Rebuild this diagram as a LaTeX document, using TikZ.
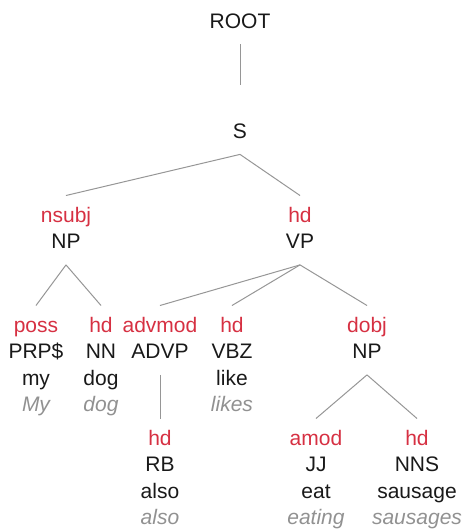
\documentclass[tikz,border=0pt]{standalone}
\usepackage{fontspec}
\setmainfont{Liberation Sans}
\usepackage{xcolor}
\usepackage{tikz}
\usetikzlibrary{positioning}

\definecolor{relred}{RGB}{214,48,66}
\definecolor{edgegray}{RGB}{150,150,150}
\definecolor{wordgray}{RGB}{145,145,145}
\definecolor{textblack}{RGB}{25,25,25}

\newcommand{\deprel}[1]{\textcolor{relred}{#1}\strut}
\newcommand{\surface}[1]{\textcolor{wordgray}{\itshape #1}\strut}
\newcommand{\treefont}{\fontsize{21}{26.5}\selectfont}

\begin{document}
\begin{tikzpicture}[x=1pt,y=-1pt,
    phrase/.style={align=center,anchor=north,inner xsep=0pt,inner ysep=8pt,
                   font=\treefont,text=textblack},
    edge/.style={draw=edgegray,line width=1pt}]
  \useasboundingbox (0,0) rectangle (462,531);

  % top
  \node[phrase] (root) at (240,1.5) {ROOT\strut};
  \node[phrase] (s) at (240,85) {\strut\\ S\strut};
  % second level
  \node[phrase] (np1) at (66,195.5) {\deprel{nsubj}\\ NP\strut};
  \node[phrase] (vp) at (300,195.5) {\deprel{hd}\\ VP\strut};
  % third level
  \node[phrase] (prp) at (36,305.5) {\deprel{poss}\\ PRP\$\strut\\ my\strut\\ \surface{My}};
  \node[phrase] (nn) at (101,305.5) {\deprel{hd}\\ NN\strut\\ dog\strut\\ \surface{dog}};
  \node[phrase] (advp) at (160,305.5) {\deprel{advmod}\\ ADVP\strut};
  \node[phrase] (vbz) at (232,305.5) {\deprel{hd}\\ VBZ\strut\\ like\strut\\ \surface{likes}};
  \node[phrase] (np2) at (367,305.5) {\deprel{dobj}\\ NP\strut};
  % fourth level
  \node[phrase] (rb) at (160,418.5) {\deprel{hd}\\ RB\strut\\ also\strut\\ \surface{also}};
  \node[phrase] (jj) at (316,418.5) {\deprel{amod}\\ JJ\strut\\ eat\strut\\ \surface{eating}};
  \node[phrase] (nns) at (417,418.5) {\deprel{hd}\\ NNS\strut\\ sausage\strut\\ \surface{sausages}};

  % edges
  \draw[edge] (root.south) -- (s.north);
  \draw[edge] (s.south) -- (np1.north);
  \draw[edge] (s.south) -- (vp.north);
  \draw[edge] (np1.south) -- (prp.north);
  \draw[edge] (np1.south) -- (nn.north);
  \draw[edge] (vp.south) -- (advp.north);
  \draw[edge] (vp.south) -- (vbz.north);
  \draw[edge] (vp.south) -- (np2.north);
  \draw[edge] (advp.south) -- (rb.north);
  \draw[edge] (np2.south) -- (jj.north);
  \draw[edge] (np2.south) -- (nns.north);
\end{tikzpicture}
\end{document}
